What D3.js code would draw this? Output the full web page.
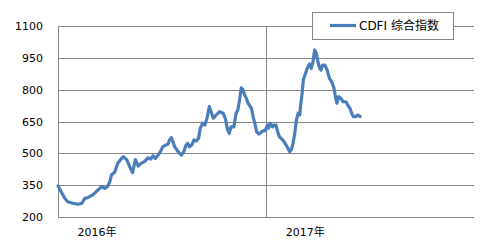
<!DOCTYPE html>
<html>
<head>
<meta charset="utf-8">
<script src="https://cdn.jsdelivr.net/npm/d3@7"></script>
<style>
  body { margin: 0; background: #fff; }
  text { font-family: "DejaVu Sans", "Noto Sans CJK SC", sans-serif; fill: #000; }
</style>
</head>
<body>
<div id="chart"></div>
<script>
// CDFI composite index
const dates = [
  "2016-01-01","2016-01-08","2016-01-13","2016-01-18","2016-01-27","2016-02-05","2016-02-12","2016-02-17","2016-02-22","2016-03-02",
  "2016-03-11","2016-03-18","2016-03-23","2016-03-28","2016-04-01","2016-04-04","2016-04-10","2016-04-15","2016-04-22","2016-04-25",
  "2016-05-01","2016-05-06","2016-05-11","2016-05-16","2016-05-21","2016-05-26","2016-06-01","2016-06-07","2016-06-12","2016-06-16",
  "2016-06-20","2016-06-25","2016-06-29","2016-07-03","2016-07-08","2016-07-12","2016-07-15","2016-07-18","2016-07-21","2016-07-24",
  "2016-07-30","2016-08-05","2016-08-09","2016-08-13","2016-08-16","2016-08-19","2016-08-23","2016-08-27","2016-08-31","2016-09-04",
  "2016-09-07","2016-09-11","2016-09-15","2016-09-19","2016-09-23","2016-09-26","2016-09-30","2016-10-05","2016-10-11","2016-10-17",
  "2016-10-21","2016-10-25","2016-10-28","2016-10-31","2016-11-05","2016-11-09","2016-11-12","2016-11-15","2016-11-18","2016-11-21",
  "2016-11-24","2016-11-27","2016-11-30","2016-12-06","2016-12-09","2016-12-12","2016-12-15","2016-12-19","2016-12-22","2016-12-26",
  "2016-12-30","2017-01-03","2017-01-05","2017-01-08","2017-01-12","2017-01-15","2017-01-18","2017-01-21","2017-01-24","2017-01-30",
  "2017-02-05","2017-02-08","2017-02-11","2017-02-14","2017-02-17","2017-02-20","2017-02-23","2017-02-26","2017-03-01","2017-03-02",
  "2017-03-05","2017-03-07","2017-03-11","2017-03-15","2017-03-18","2017-03-21","2017-03-24","2017-03-27","2017-03-30","2017-04-01",
  "2017-04-04","2017-04-07","2017-04-10","2017-04-14","2017-04-18","2017-04-22","2017-04-26","2017-04-30","2017-05-02","2017-05-05",
  "2017-05-08","2017-05-12","2017-05-16","2017-05-21","2017-05-24","2017-05-28","2017-05-31","2017-06-03","2017-06-07","2017-06-11",
  "2017-06-15"
];
const values = [
  347, 312, 288, 272, 265, 260, 265, 288, 291, 304,
  327, 343, 335, 343, 366, 398, 413, 453, 477, 484,
  469, 437, 409, 470, 440, 453, 461, 479, 473, 489,
  476, 492, 508, 531, 539, 542, 563, 574, 555, 531,
  508, 492, 508, 539, 547, 531, 539, 563, 558, 571,
  618, 642, 633, 668, 720, 696, 665, 681, 696, 689,
  665, 610, 594, 625, 625, 689, 704, 751, 808, 800,
  775, 759, 736, 712, 672, 640, 602, 591, 597, 606,
  606, 633, 618, 642, 625, 633, 633, 602, 578, 563,
  539, 524, 508, 516, 547, 594, 657, 690, 681, 720,
  783, 845, 877, 908, 921, 900, 931, 987, 971, 940,
  908, 892, 916, 916, 892, 853, 837, 806, 775, 736,
  767, 759, 743, 743, 728, 712, 689, 673, 673, 681,
  673
];
const yTicks = [200, 350, 500, 650, 800, 950, 1100];
const years = [2016, 2017];
const seriesName = "CDFI 综合指数";

const width = 485, height = 250;
const margin = { top: 26, right: 11, bottom: 33, left: 58 };

const parse = d3.timeParse("%Y-%m-%d");
const data = dates.map((d, i) => ({ date: parse(d), value: values[i] }));

const svg = d3.select("#chart").append("svg")
    .attr("width", width)
    .attr("height", height);

const x = d3.scaleTime()
    .domain([new Date(2016, 0, 1), new Date(2018, 0, 1)])
    .range([margin.left, width - margin.right]);

const y = d3.scaleLinear()
    .domain([200, 1100])
    .range([height - margin.bottom, margin.top]);

// horizontal gridlines
svg.append("g")
    .selectAll("line")
    .data(yTicks)
    .enter().append("line")
    .attr("x1", margin.left)
    .attr("x2", width - margin.right)
    .attr("y1", d => Math.round(y(d)) + 0.5)
    .attr("y2", d => Math.round(y(d)) + 0.5)
    .attr("stroke", "#868686")
    .attr("stroke-width", 1);

// year separator + left axis
svg.append("g")
    .selectAll("line")
    .data(years)
    .enter().append("line")
    .attr("x1", d => Math.round(x(new Date(d, 0, 1))) + 0.5)
    .attr("x2", d => Math.round(x(new Date(d, 0, 1))) + 0.5)
    .attr("y1", y(1100))
    .attr("y2", y(200))
    .attr("stroke", "#868686")
    .attr("stroke-width", 1);

// y labels
svg.append("g")
    .selectAll("text")
    .data(yTicks)
    .enter().append("text")
    .attr("x", 43)
    .attr("y", d => y(d) + 4)
    .attr("text-anchor", "end")
    .style("font-size", "11px")
    .text(d => d);

// year labels
svg.append("g")
    .selectAll("text")
    .data(years)
    .enter().append("text")
    .attr("x", d => x(new Date(d, 0, 1)) + 39)
    .attr("y", 236)
    .attr("text-anchor", "middle")
    .style("font-size", "11px")
    .text(d => d + "年");

// the series
const line = d3.line()
    .x(d => x(d.date))
    .y(d => y(d.value));

svg.append("path")
    .datum(data)
    .attr("d", line)
    .attr("fill", "none")
    .attr("stroke", "#4a7ebb")
    .attr("stroke-width", 3.2)
    .attr("stroke-linejoin", "round")
    .attr("stroke-linecap", "round");

// legend
const legend = svg.append("g")
    .attr("transform", "translate(312, 12)");

legend.append("rect")
    .attr("x", 0.5)
    .attr("y", 0.5)
    .attr("width", 141)
    .attr("height", 27)
    .attr("fill", "#fff")
    .attr("stroke", "#868686");

legend.append("line")
    .attr("x1", 18)
    .attr("x2", 44)
    .attr("y1", 13.5)
    .attr("y2", 13.5)
    .attr("stroke", "#4a7ebb")
    .attr("stroke-width", 3.2);

legend.append("text")
    .attr("x", 47)
    .attr("y", 18)
    .style("font-size", "12px")
    .text(seriesName);
</script>
</body>
</html>
